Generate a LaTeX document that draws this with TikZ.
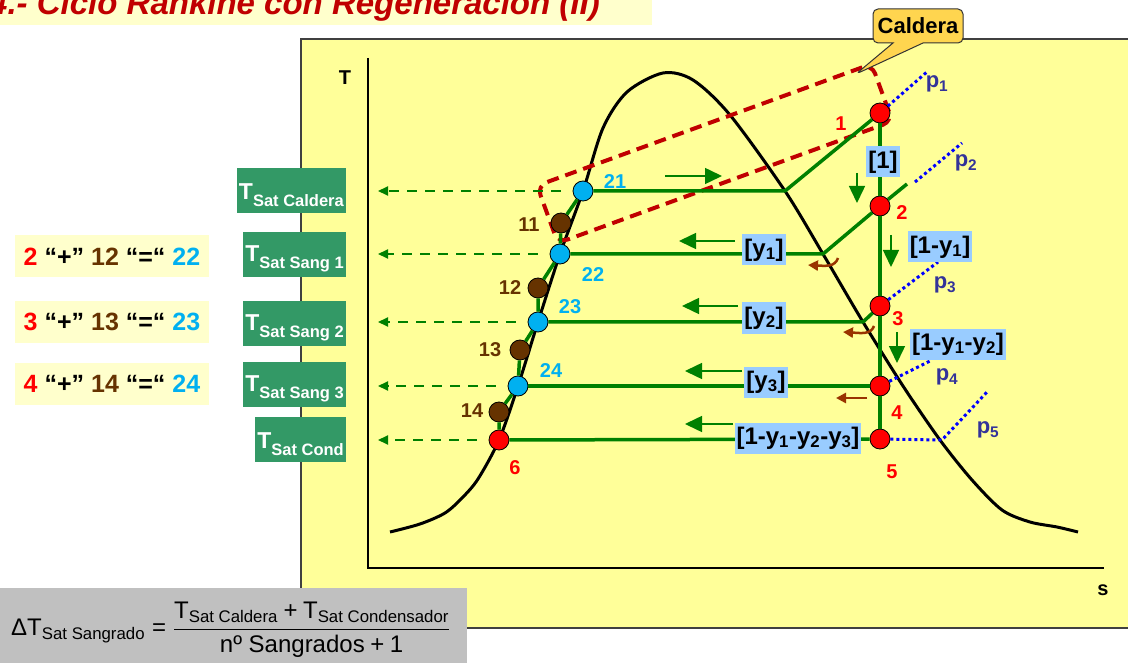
\documentclass[tikz,border=0pt]{standalone}
\usepackage{fontspec}
\setmainfont{Liberation Sans}
\usepackage{amsmath}
\usetikzlibrary{arrows.meta,shapes.callouts}
\definecolor{RCRed}{HTML}{C00000}
\definecolor{RCPanel}{HTML}{FFFF99}
\definecolor{RCPale}{HTML}{FFFFCC}
\definecolor{RCFrame}{HTML}{404040}
\definecolor{RCGreen}{HTML}{008000}
\definecolor{RCTbox}{HTML}{339966}
\definecolor{RCLabel}{HTML}{99CCFF}
\definecolor{RCCyan}{HTML}{00B0F0}
\definecolor{RCBrown}{HTML}{663300}
\definecolor{RCRust}{HTML}{993300}
\definecolor{RCPress}{HTML}{333399}
\definecolor{RCGold}{HTML}{FFD54F}
\definecolor{RCGray}{HTML}{C0C0C0}
\newcommand{\fsz}[1]{\fontsize{#1}{#1}\selectfont}
\newcommand{\tsat}[1]{\rule{0pt}{25pt}{\fsz{23}T}\raisebox{-7pt}{\fsz{16.5}Sat #1}}
\newcommand{\plusop}{\mathbin{\text{+}}}
\newcommand{\eqop}{\mathrel{\text{=}}}

\begin{document}
\begin{tikzpicture}[x=1pt,y=-1pt,
  cyc/.style={draw=RCGreen,line width=3.5pt,line join=round},
  dome/.style={draw=black,line width=3pt},
  redpt/.style={circle,draw=black,line width=0.8pt,fill=red,minimum size=20pt,inner sep=0pt},
  cyanpt/.style={redpt,fill=RCCyan},
  brownpt/.style={redpt,fill=RCBrown},
  numlbl/.style={font=\bfseries\fsz{20},inner sep=0pt},
  plbl/.style={text=RCPress,font=\bfseries\fsz{22},inner sep=0pt},
  flowbox/.style={fill=RCLabel,font=\bfseries\fsz{24},inner xsep=2pt,inner ysep=0pt,minimum height=31pt},
  tsbox/.style={fill=RCTbox,text=white,font=\bfseries,anchor=east,inner xsep=2pt,inner ysep=0pt,minimum height=45pt},
  mixbox/.style={fill=RCPale,font=\bfseries\fsz{25},minimum width=194pt,minimum height=42pt,inner sep=0pt},
  dirarr/.style={draw=RCGreen,line width=1.5pt,-{Triangle[length=17pt,width=16pt]}},
  rustarr/.style={draw=RCRust,line width=2.5pt,-{Triangle[length=10pt,width=10pt]}},
  satarr/.style={draw=RCGreen,line width=2pt,dash pattern=on 10pt off 8pt,-{Triangle[length=10pt,width=9pt]},shorten <=12pt,shorten >=32pt},
  dotp/.style={draw=blue,line width=3pt,dash pattern=on 3pt off 3pt}]
\useasboundingbox (0,0) rectangle (1128,663);
\clip (0,0) rectangle (1128,663);
\fill[RCPale] (0,0) rectangle (652,25);
\node[anchor=base east,font=\bfseries\itshape\fsz{33},text=RCRed,inner sep=0pt] (title) at (600,15) {4.- Ciclo Rankine con Regeneración (II)};

\draw[fill=RCPanel,draw=RCFrame,line width=1.5pt] (301,39) rectangle (1140,628);
\draw[line width=2pt] (368,58) -- (368,568) -- (1104,568);
\node[font=\bfseries\fsz{20}] (taxis) at (345,78) {T};
\node[font=\bfseries\fsz{20}] (saxis) at (1103,590) {s};

\draw[dome] plot[smooth] coordinates {(390,532) (420,524) (445,513) (462,498) (478,479) (499,440) (518,386) (538,322) (560,254) (583,191) (603,128) (627,92) (663,73) (693,80) (730,115) (785,191) (823,254) (863,322) (903,386) (940,440) (972,480) (1002,510) (1030,522) (1057,527) (1078,532)};

\node[draw=RCRed,line width=4pt,dash pattern=on 12pt off 7pt,rounded corners=10pt,minimum width=356pt,minimum height=61pt,rotate=20] (caldbox) at (714.75,153.5) {};

\node[redpt] (e1) at (880,113) {};
\node[redpt] (e2) at (880,206) {};
\node[redpt] (e3) at (880,306) {};
\node[redpt] (e4) at (880,386) {};
\node[redpt] (e5) at (880,439) {};
\node[redpt] (e6) at (499,440) {};
\node[cyanpt] (e21) at (583,191) {};
\node[cyanpt] (e22) at (560,254) {};
\node[cyanpt] (e23) at (538,322) {};
\node[cyanpt] (e24) at (518,386) {};
\node[brownpt] (e11) at (561,223) {};
\node[brownpt] (e12) at (538,288) {};
\node[brownpt] (e13) at (520,350) {};
\node[brownpt] (e14) at (499,412) {};

\foreach \nm/\px/\py in {k1/785/191,k2/823/254,k3/863/322,q2/907/184,
  d1/928/71,d2a/915/182,d2b/962/143,d3/938/262,d4/932/360,k5/942/440,d5/987/392,
  a1s/665/176,a1e/722/176,a2s/735/241,a2e/679/241,a3s/738/306,a3e/682/306,
  a4s/742/371,a4e/685/371,a5s/733/424,a5e/685/424,
  v1s/857/173,v1e/857/203,v2s/891/235,v2e/891/267,v3s/897/332,v3e/897/363,
  b1s/838/258,b1e/808/265,b2s/874/326,b2e/843/332,b3s/867/398,b3e/836/398}
  \coordinate (\nm) at (\px,\py);

\draw[cyc] (e1) -- (e2) -- (e3) -- (e4) -- (e5);
\draw[cyc] (e1) -- (k1) -- (e21);
\draw[cyc] (q2) -- (e2);
\draw[cyc] (e2) -- (k2) -- (e22);
\draw[cyc] (e3) -- (k3) -- (e23);
\draw[cyc] (e4) -- (e24);
\draw[cyc] (e5) -- (e6);
\draw[cyc] (e6) -- (e14) -- (e24) -- (e13) -- (e23) -- (e12) -- (e22) -- (e11) -- (e21);

\draw[dotp] (e1) -- (d1);
\draw[dotp] (d2a) -- (d2b);
\draw[dotp] (e3) -- (d3);
\draw[dotp] (e4) -- (d4);
\draw[dotp] (e5) -- (k5) -- (d5);
\node[plbl] (np1) at (937,84) {p\textsubscript{1}};
\node[plbl] (np2) at (966,163) {p\textsubscript{2}};
\node[plbl] (np3) at (945,285) {p\textsubscript{3}};
\node[plbl] (np4) at (947,377) {p\textsubscript{4}};
\node[plbl] (np5) at (988,430) {p\textsubscript{5}};

\node[numlbl,text=red] (n1) at (841,124) {1};
\node[numlbl,text=red] (n2) at (902,213) {2};
\node[numlbl,text=red] (n3) at (898,319) {3};
\node[numlbl,text=red] (n4) at (897,413) {4};
\node[numlbl,text=red] (n5) at (892,472) {5};
\node[numlbl,text=red] (n6) at (515,468) {6};
\node[numlbl,text=RCCyan] (n21) at (615,182) {21};
\node[numlbl,text=RCCyan] (n22) at (593,275) {22};
\node[numlbl,text=RCCyan] (n23) at (570,307) {23};
\node[numlbl,text=RCCyan] (n24) at (551,371) {24};
\node[numlbl,text=RCBrown] (n11) at (529,225) {11};
\node[numlbl,text=RCBrown] (n12) at (510,288) {12};
\node[numlbl,text=RCBrown] (n13) at (490,350) {13};
\node[numlbl,text=RCBrown] (n14) at (472,411) {14};

\node[flowbox] (f1) at (883,162) {[1]};
\node[flowbox] (fy1) at (764,250) {[y\textsubscript{1}]};
\node[flowbox] (fr1) at (940,247) {[1-y\textsubscript{1}]};
\node[flowbox] (fy2) at (764,318) {[y\textsubscript{2}]};
\node[flowbox] (fr2) at (958,344) {[1-y\textsubscript{1}-y\textsubscript{2}]};
\node[flowbox] (fy3) at (766,382) {[y\textsubscript{3}]};
\node[flowbox] (fr3) at (798,438) {[1-y\textsubscript{1}-y\textsubscript{2}-y\textsubscript{3}]};

\foreach \s/\e in {a1s/a1e,a2s/a2e,a3s/a3e,a4s/a4e,a5s/a5e,v1s/v1e,v2s/v2e,v3s/v3e}
  \draw[dirarr] (\s) -- (\e);
\draw[rustarr] (b1s) .. controls (835,267) and (826,266) .. (b1e);
\draw[rustarr] (b2s) .. controls (871,335) and (860,333) .. (b2e);
\draw[rustarr] (b3s) -- (b3e);

\node[tsbox] (tcal) at (346,191) {\tsat{Caldera}};
\node[tsbox] (ts1) at (346,254.5) {\tsat{Sang 1}};
\node[tsbox] (ts2) at (346,323.5) {\tsat{Sang 2}};
\node[tsbox] (ts3) at (346,384.5) {\tsat{Sang 3}};
\node[tsbox] (tcond) at (346,439.5) {\tsat{Cond}};
\draw[satarr] (e21) -- (e21 -| tcal.east);
\draw[satarr] (e22) -- (e22 -| ts1.east);
\draw[satarr] (e23) -- (e23 -| ts2.east);
\draw[satarr] (e24) -- (e24 -| ts3.east);
\draw[satarr] (e6) -- (e6 -| tcond.east);

\node[mixbox] (mix1) at (112,256.5) {{\color{red}2} “+” {\color{RCBrown}12} “=“ {\color{RCCyan}22}};
\node[mixbox] (mix2) at (112,322) {{\color{red}3} “+” {\color{RCBrown}13} “=“ {\color{RCCyan}23}};
\node[mixbox] (mix3) at (112,384) {{\color{red}4} “+” {\color{RCBrown}14} “=“ {\color{RCCyan}24}};

\fill[RCGray] (0,588) rectangle (467,663);
\node[anchor=west,inner sep=0pt] (dform) at (11,630) {\fsz{24}$\text{ΔT}_{\text{Sat Sangrado}}\eqop\dfrac{\text{T}_{\text{Sat Caldera}}\plusop\text{T}_{\text{Sat Condensador}}}{\text{nº Sangrados}\plusop\text{1}}$};

\node[rectangle callout,callout absolute pointer={(856,74)},callout pointer width=30pt,fill=RCGold,draw=black!80,line width=1pt,rounded corners=5pt,font=\bfseries\fsz{22},minimum width=90pt,minimum height=34pt,inner sep=0pt] (calnote) at (918,26) {Caldera};
\end{tikzpicture}
\end{document}
